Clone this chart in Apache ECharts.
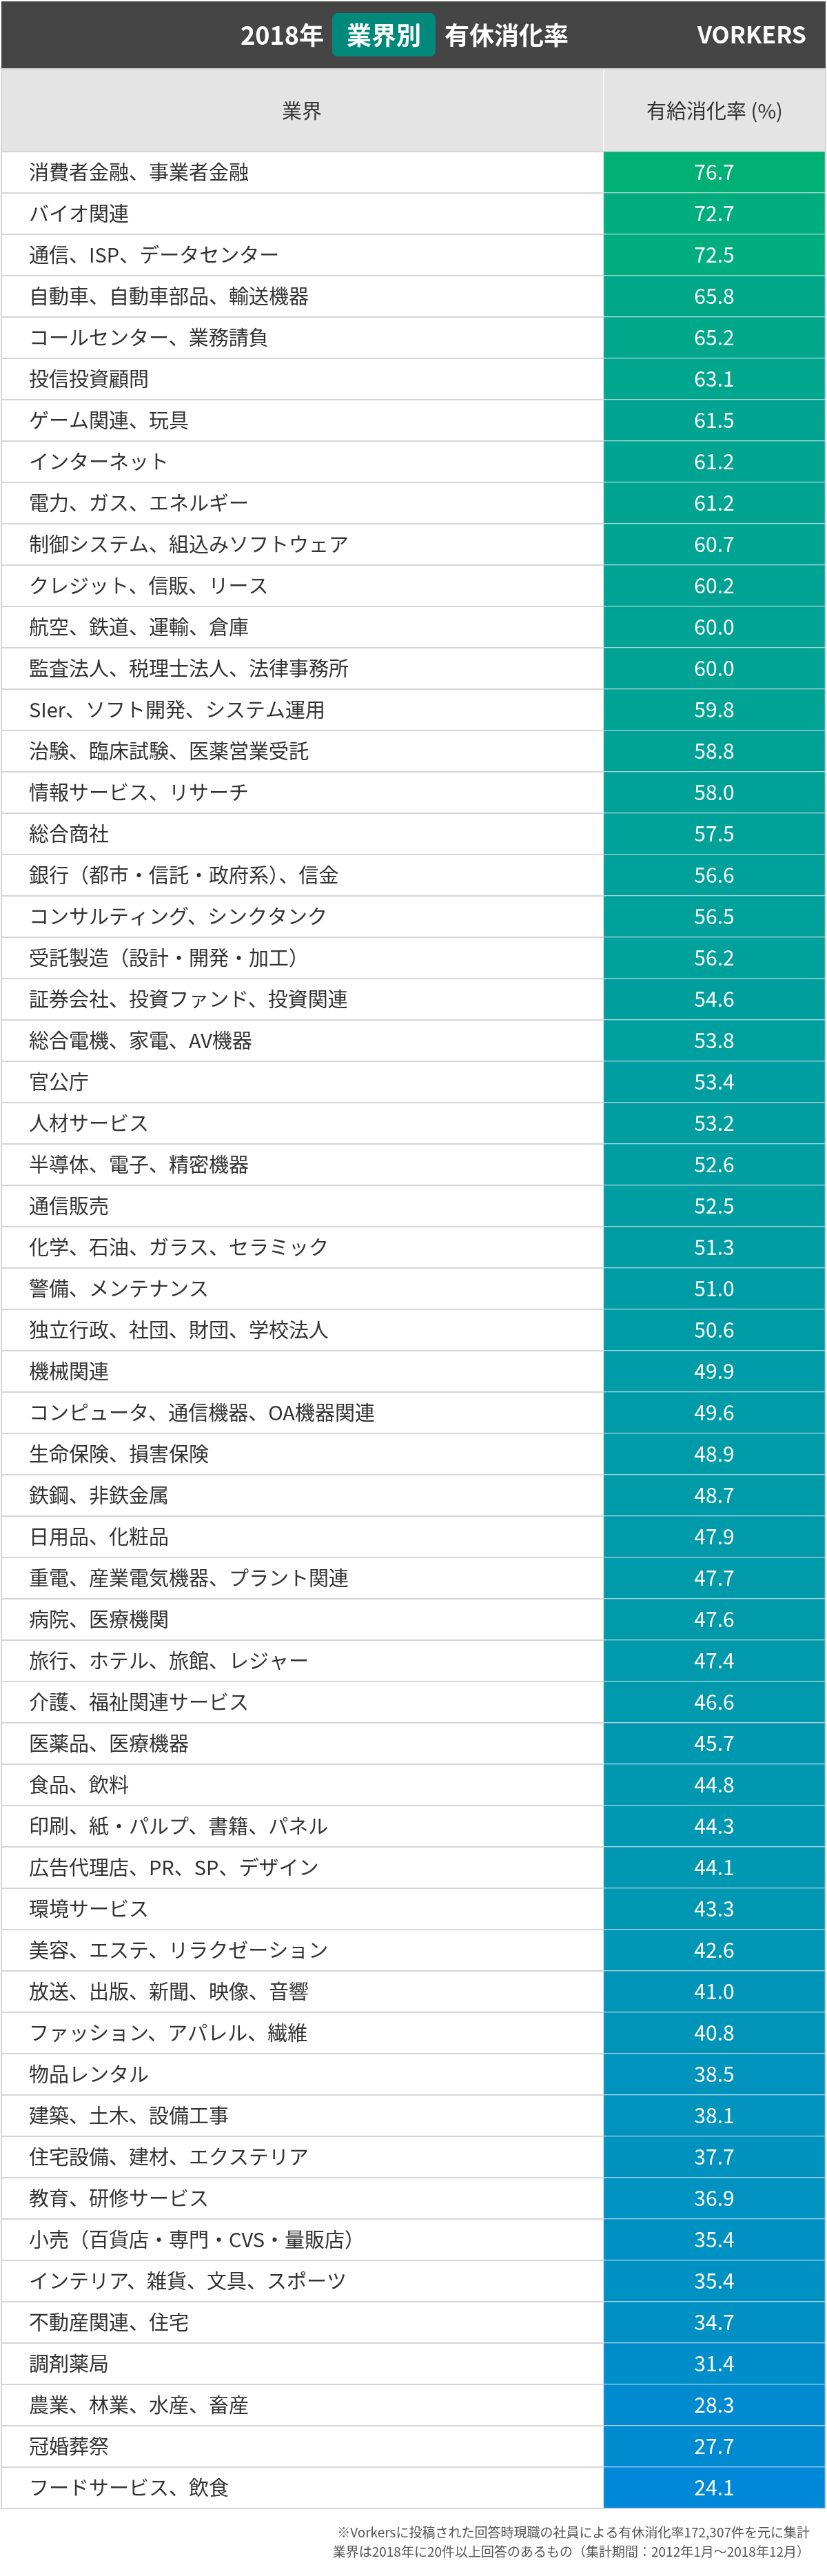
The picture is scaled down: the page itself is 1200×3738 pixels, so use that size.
<!DOCTYPE html>
<html><head><meta charset="utf-8">
<script src="https://cdn.jsdelivr.net/npm/echarts@6/dist/echarts.min.js"></script>
<style>html,body{margin:0;padding:0;background:#fff}#c{width:1200px;height:3738px}</style>
</head><body><div id="c"></div>
<script>
const industries = ["消費者金融、事業者金融","バイオ関連","通信、ISP、データセンター","自動車、自動車部品、輸送機器","コールセンター、業務請負","投信投資顧問","ゲーム関連、玩具","インターネット","電力、ガス、エネルギー","制御システム、組込みソフトウェア","クレジット、信販、リース","航空、鉄道、運輸、倉庫","監査法人、税理士法人、法律事務所","SIer、ソフト開発、システム運用","治験、臨床試験、医薬営業受託","情報サービス、リサーチ","総合商社","銀行（都市・信託・政府系）、信金","コンサルティング、シンクタンク","受託製造（設計・開発・加工）","証券会社、投資ファンド、投資関連","総合電機、家電、AV機器","官公庁","人材サービス","半導体、電子、精密機器","通信販売","化学、石油、ガラス、セラミック","警備、メンテナンス","独立行政、社団、財団、学校法人","機械関連","コンピュータ、通信機器、OA機器関連","生命保険、損害保険","鉄鋼、非鉄金属","日用品、化粧品","重電、産業電気機器、プラント関連","病院、医療機関","旅行、ホテル、旅館、レジャー","介護、福祉関連サービス","医薬品、医療機器","食品、飲料","印刷、紙・パルプ、書籍、パネル","広告代理店、PR、SP、デザイン","環境サービス","美容、エステ、リラクゼーション","放送、出版、新聞、映像、音響","ファッション、アパレル、繊維","物品レンタル","建築、土木、設備工事","住宅設備、建材、エクステリア","教育、研修サービス","小売（百貨店・専門・CVS・量販店）","インテリア、雑貨、文具、スポーツ","不動産関連、住宅","調剤薬局","農業、林業、水産、畜産","冠婚葬祭","フードサービス、飲食"];
const rates = [76.7,72.7,72.5,65.8,65.2,63.1,61.5,61.2,61.2,60.7,60.2,60.0,60.0,59.8,58.8,58.0,57.5,56.6,56.5,56.2,54.6,53.8,53.4,53.2,52.6,52.5,51.3,51.0,50.6,49.9,49.6,48.9,48.7,47.9,47.7,47.6,47.4,46.6,45.7,44.8,44.3,44.1,43.3,42.6,41.0,40.8,38.5,38.1,37.7,36.9,35.4,35.4,34.7,31.4,28.3,27.7,24.1];
const columns = ["業界","有給消化率 (%)"];
const title = ["2018年","業界別","有休消化率"];
const notes = ["※Vorkersに投稿された回答時現職の社員による有休消化率172,307件を元に集計","業界は2018年に20件以上回答のあるもの（集計期間：2012年1月～2018年12月）"];

const F = '"Noto Sans CJK JP", "Noto Sans", sans-serif';
const chart = echarts.init(document.getElementById('c'));
const top0 = 220, rowH = 60, H = rowH * industries.length;
chart.setOption({
  animation:false,
  visualMap:{show:false, min:24.1, max:76.7, dimension:2, seriesIndex:0, inRange:{color:['#0088d8','#00b074']}},
  grid:[
    {left:876, width:321, top:top0, height:H},
    {left:3, width:873, top:top0, height:H}
  ],
  xAxis:[
    {gridIndex:0, type:'category', data:[columns[1]], show:false},
    {gridIndex:1, type:'category', data:[columns[0]], show:false}
  ],
  yAxis:[
    {gridIndex:0, type:'category', inverse:true, data:industries, axisLine:{show:false}, axisTick:{show:false},
     axisLabel:{align:'left', margin:834, fontFamily:F, fontSize:29, color:'#333'}},
    {gridIndex:1, type:'category', inverse:true, data:industries, axisLine:{show:false}, axisTick:{show:false}, axisLabel:{show:false},
     splitLine:{show:true, interval:0, lineStyle:{color:'#d6d6d6', width:2}}}
  ],
  series:[
    {type:'heatmap', xAxisIndex:0, yAxisIndex:0, data:rates.map((v,i)=>[0,i,v]),
     itemStyle:{borderColor:'#d8e4ea', borderWidth:1},
     label:{show:true, formatter:p=>p.value[2].toFixed(1), color:'#fff', fontFamily:F, fontSize:30}}
  ],
  graphic:[
    {type:'rect', shape:{x:2,y:2,width:1196,height:98}, style:{fill:'#454545'}},
    {type:'rect', shape:{x:482,y:19,width:150,height:63,r:8}, style:{fill:'#00897b'}},
    {type:'text', x:470, y:51, style:{text:title[0], align:'right', verticalAlign:'middle', fill:'#fff', font:'bold 36px '+F}},
    {type:'text', x:557, y:51, style:{text:title[1], align:'center', verticalAlign:'middle', fill:'#fff', font:'bold 36px '+F}},
    {type:'text', x:645, y:51, style:{text:title[2], align:'left', verticalAlign:'middle', fill:'#fff', font:'bold 36px '+F}},
    {type:'text', x:1170, y:50, style:{text:'VORKERS', align:'right', verticalAlign:'middle', fill:'#fff', font:'bold 34px '+F}},
    {type:'rect', shape:{x:3,y:100,width:1194,height:120}, style:{fill:'#e4e4e4'}},
    {type:'line', shape:{x1:876,y1:100,x2:876,y2:220}, style:{stroke:'#f4f4f4', lineWidth:2}},
    {type:'text', x:438, y:161, style:{text:columns[0], align:'center', verticalAlign:'middle', fill:'#333', font:'29px '+F}},
    {type:'text', x:1037, y:161, style:{text:columns[1], align:'center', verticalAlign:'middle', fill:'#333', font:'29px '+F}},
    {type:'rect', shape:{x:2,y:100,width:1196,height:top0+H-100}, style:{fill:null, stroke:'#d6d6d6', lineWidth:2}, z:10},
    {type:'text', x:1175, y:3675, style:{text:notes[0], align:'right', verticalAlign:'middle', fill:'#555', font:'19px '+F}},
    {type:'text', x:1175, y:3703, style:{text:notes[1], align:'right', verticalAlign:'middle', fill:'#555', font:'19px '+F}}
  ]
});
</script></body></html>
